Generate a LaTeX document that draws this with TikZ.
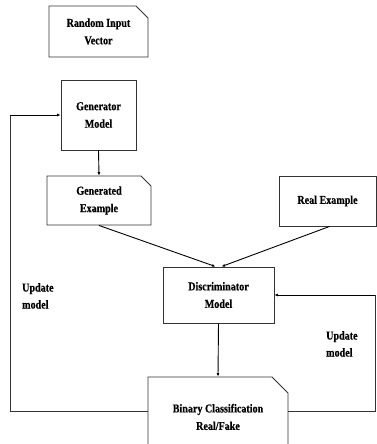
\documentclass[tikz,border=0pt]{standalone}
\usepackage{fontspec}
\setmainfont{Liberation Serif}[FakeStretch=0.84,FakeBold=0.6]
\usetikzlibrary{shapes.misc,arrows.meta}
\begin{document}
\begin{tikzpicture}[x=1pt,y=-1pt,
  box/.style={draw=black!80,line width=0.9pt,rectangle,inner sep=0pt,align=center,
    font=\bfseries\fontsize{12}{17.5}\selectfont},
  cbox/.style={box,chamfered rectangle,chamfered rectangle corners=north east},
  lbl/.style={inner sep=0pt,align=left,font=\bfseries\fontsize{12}{17}\selectfont},
  conn/.style={draw=black,line width=0.9pt,-{Latex[length=3.5pt,width=3pt]}},
  wire/.style={draw=black!80,line width=0.9pt}]
\useasboundingbox (0,0) rectangle (377,444);
\node[cbox,minimum width=99pt,minimum height=51pt,chamfered rectangle xsep=4pt,chamfered rectangle ysep=8pt] (rand) at (98.5,31.5) {Random Input\\Vector};
\node[box,minimum width=75pt,minimum height=70pt] (gen) at (98.5,115) {Generator\\Model};
\node[cbox,minimum width=104pt,minimum height=49pt,chamfered rectangle xsep=4pt,chamfered rectangle ysep=6pt] (gened) at (99,200.5) {Generated\\Example};
\node[box,minimum width=97pt,minimum height=50pt] (real) at (327.5,201) {Real Example};
\node[box,minimum width=111pt,minimum height=56pt] (disc) at (218.5,295) {Discriminator\\Model};
\node[cbox,minimum width=140pt,minimum height=80pt,chamfered rectangle xsep=6pt,chamfered rectangle ysep=10pt] (bin) at (218,417) {Binary Classification\\Real/Fake};
\node[lbl,anchor=north west] (ul) at (22,283) {Update\\model};
\node[lbl,anchor=north west] (ur) at (326,331) {Update\\model};
\coordinate (bl) at (148,411);
\coordinate (br) at (288,411);
\coordinate (lc) at (10,411);
\coordinate (lt) at (10,115);
\coordinate (rc) at (375,411);
\coordinate (rt) at (375,295);
\draw[conn] (gen.south) -- (gened.north);
\draw[conn] (gened.south) -- ([xshift=-3pt]disc.north);
\draw[conn] ([xshift=2pt]real.south) -- ([xshift=3pt]disc.north);
\draw[conn] (disc.south) -- (bin.north);
\draw[wire] (bl) -- (lc) -- (lt);
\draw[conn] (lt) -- (gen.west);
\draw[wire] (br) -- (rc) -- (rt);
\draw[conn] (rt) -- (disc.east);
\end{tikzpicture}
\end{document}
